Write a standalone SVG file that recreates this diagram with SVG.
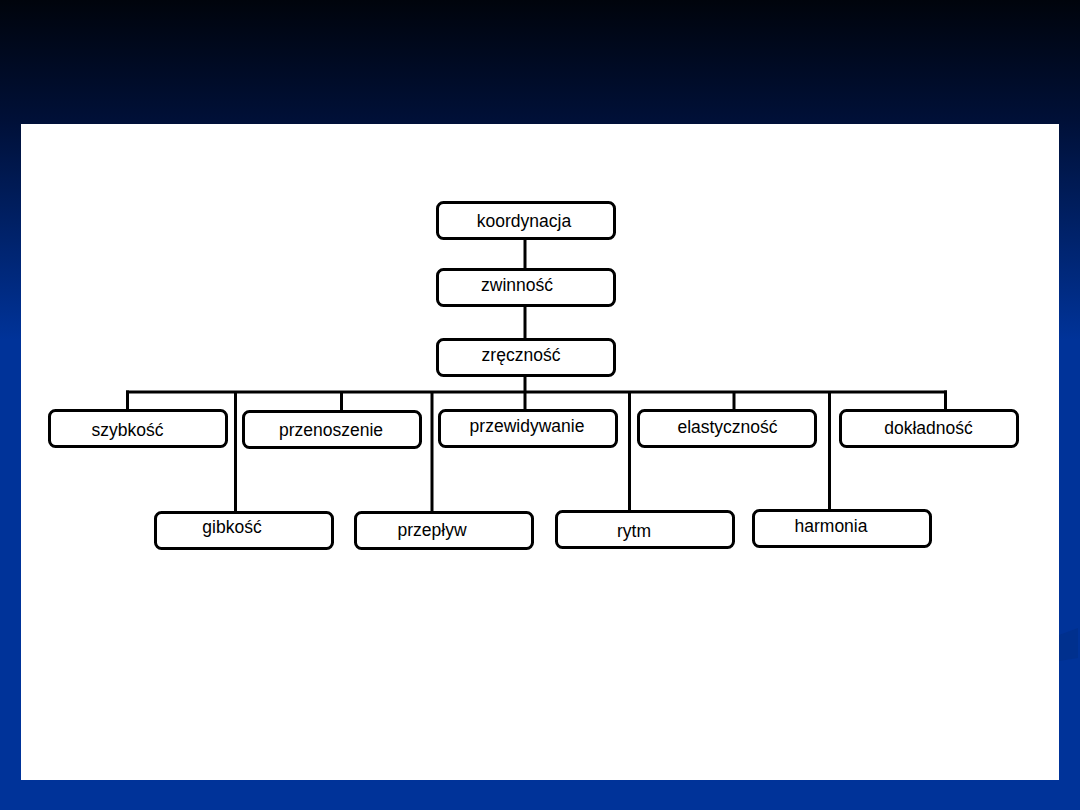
<svg xmlns="http://www.w3.org/2000/svg" width="1080" height="810" viewBox="0 0 1080 810">
<defs>
<linearGradient id="bg" x1="0" y1="0" x2="0" y2="810" gradientUnits="userSpaceOnUse">
<stop offset="0" stop-color="#00040c"/>
<stop offset="0.15" stop-color="#001038"/>
<stop offset="0.42" stop-color="#003399"/>
<stop offset="1" stop-color="#003399"/>
</linearGradient>
<style>
.box{fill:#ffffff;stroke:#000000;stroke-width:3}
.lbl{font-family:"Liberation Sans",Arial,sans-serif;font-size:17.5px;fill:#000000;text-anchor:middle}
.con{stroke:#000000;stroke-width:3;fill:none}
</style>
</defs>
<rect x="0" y="0" width="1080" height="810" fill="url(#bg)"/>
<polygon points="1059,635 1078,628 1078,658 1059,661" fill="#00308e"/>
<rect x="21" y="124" width="1038" height="656" fill="#ffffff"/>
<g id="connectors">
<line class="con" x1="525" y1="239" x2="525" y2="269"/>
<line class="con" x1="525" y1="306" x2="525" y2="339"/>
<line class="con" x1="525" y1="376" x2="525" y2="410"/>
<line class="con" x1="126" y1="392" x2="947" y2="392"/>
<line class="con" x1="127.5" y1="390.5" x2="127.5" y2="410"/>
<line class="con" x1="341.5" y1="392" x2="341.5" y2="411"/>
<line class="con" x1="734" y1="392" x2="734" y2="410"/>
<line class="con" x1="945.5" y1="390.5" x2="945.5" y2="410"/>
<line class="con" x1="235.5" y1="392" x2="235.5" y2="512"/>
<line class="con" x1="432" y1="392" x2="432" y2="512"/>
<line class="con" x1="629.5" y1="392" x2="629.5" y2="511"/>
<line class="con" x1="829.5" y1="392" x2="829.5" y2="510"/>
</g>
<g id="koordynacja"><rect class="box" x="437.5" y="202.5" width="177" height="36" rx="6"/><text class="lbl" x="524" y="227">koordynacja</text></g>
<g id="zwinnosc"><rect class="box" x="437.5" y="269.5" width="177" height="36" rx="6"/><text class="lbl" x="517" y="291">zwinność</text></g>
<g id="zrecznosc"><rect class="box" x="437.5" y="339.5" width="177" height="36" rx="6"/><text class="lbl" x="521" y="361">zręczność</text></g>
<g id="szybkosc"><rect class="box" x="49.5" y="410.5" width="177" height="36" rx="6"/><text class="lbl" x="127.5" y="436">szybkość</text></g>
<g id="przenoszenie"><rect class="box" x="243.5" y="411.5" width="177" height="36" rx="6"/><text class="lbl" x="331" y="436">przenoszenie</text></g>
<g id="przewidywanie"><rect class="box" x="439.5" y="410.5" width="177" height="36" rx="6"/><text class="lbl" x="527" y="432">przewidywanie</text></g>
<g id="elastycznosc"><rect class="box" x="638.5" y="410.5" width="177" height="36" rx="6"/><text class="lbl" x="727.5" y="433">elastyczność</text></g>
<g id="dokladnosc"><rect class="box" x="840.5" y="410.5" width="177" height="36" rx="6"/><text class="lbl" x="928.5" y="434">dokładność</text></g>
<g id="gibkosc"><rect class="box" x="155.5" y="512.5" width="177" height="36" rx="6"/><text class="lbl" x="232" y="533">gibkość</text></g>
<g id="przeplyw"><rect class="box" x="355.5" y="512.5" width="177" height="36" rx="6"/><text class="lbl" x="432" y="536">przepływ</text></g>
<g id="rytm"><rect class="box" x="556.5" y="511.5" width="177" height="36" rx="6"/><text class="lbl" x="634" y="537">rytm</text></g>
<g id="harmonia"><rect class="box" x="753.5" y="510.5" width="177" height="36" rx="6"/><text class="lbl" x="831" y="532">harmonia</text></g>
</svg>
